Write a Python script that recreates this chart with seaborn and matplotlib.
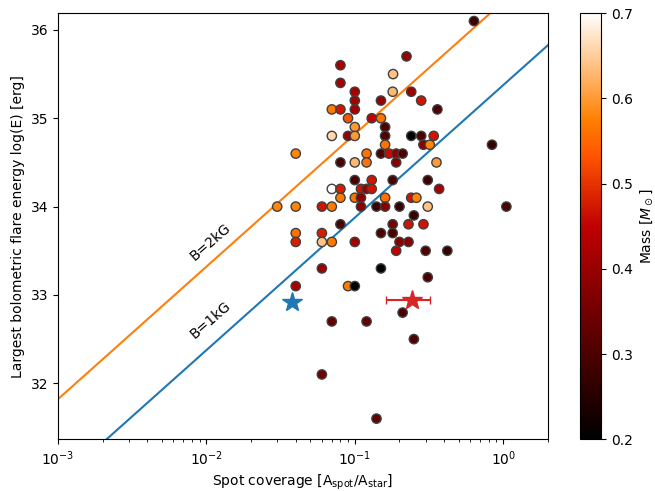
import numpy as np
import pandas as pd
import seaborn as sns
import matplotlib
matplotlib.use("Agg")
import matplotlib.pyplot as plt
from matplotlib.colors import Normalize
from matplotlib.cm import ScalarMappable

# flare sample: spot coverage, log of largest flare energy, stellar mass
spot = [0.635, 0.08, 0.223, 0.181, 0.08, 0.1, 0.18, 0.24, 0.1, 0.15,
        0.28, 0.07, 0.08, 0.1, 0.36, 0.09, 0.13, 0.15, 0.1, 0.16,
        0.07, 0.09, 0.1, 0.16, 0.24, 0.28, 0.34, 0.16, 0.29, 0.32,
        0.84, 0.04, 0.12, 0.15, 0.17, 0.19, 0.21, 0.08, 0.1, 0.12,
        0.19, 0.355, 0.1, 0.13, 0.18, 0.31, 0.07, 0.08, 0.11, 0.12,
        0.13, 0.37, 0.08, 0.1, 0.11, 0.16, 0.24, 0.26, 0.03, 0.04,
        0.06, 0.07, 0.11, 0.14, 0.16, 0.2, 0.31, 1.05, 0.25, 0.08,
        0.18, 0.23, 0.29, 0.04, 0.06, 0.15, 0.18, 0.04, 0.06, 0.07,
        0.1, 0.2, 0.23, 0.19, 0.3, 0.42, 0.06, 0.15, 0.31, 0.04,
        0.09, 0.1, 0.21, 0.07, 0.12, 0.25, 0.06, 0.14]
log_energy = [36.1, 35.6, 35.7, 35.5, 35.4, 35.3, 35.3, 35.3, 35.2, 35.2,
              35.2, 35.1, 35.1, 35.1, 35.1, 35.0, 35.0, 35.0, 34.9, 34.9,
              34.8, 34.8, 34.8, 34.8, 34.8, 34.8, 34.8, 34.7, 34.7, 34.7,
              34.7, 34.6, 34.6, 34.6, 34.6, 34.6, 34.6, 34.5, 34.5, 34.5,
              34.5, 34.5, 34.3, 34.3, 34.3, 34.3, 34.2, 34.2, 34.2, 34.2,
              34.2, 34.2, 34.1, 34.1, 34.1, 34.1, 34.1, 34.1, 34.0, 34.0,
              34.0, 34.0, 34.0, 34.0, 34.0, 34.0, 34.0, 34.0, 33.9, 33.8,
              33.8, 33.8, 33.8, 33.7, 33.7, 33.7, 33.7, 33.6, 33.6, 33.6,
              33.6, 33.6, 33.6, 33.5, 33.5, 33.5, 33.3, 33.3, 33.2, 33.1,
              33.1, 33.1, 32.8, 32.7, 32.7, 32.5, 32.1, 31.6]
mass = [0.28, 0.42, 0.40, 0.64, 0.42, 0.42, 0.63, 0.40, 0.42, 0.40,
        0.47, 0.57, 0.47, 0.42, 0.30, 0.53, 0.45, 0.56, 0.60, 0.30,
        0.66, 0.40, 0.60, 0.30, 0.20, 0.30, 0.47, 0.56, 0.38, 0.58,
        0.27, 0.58, 0.56, 0.30, 0.46, 0.38, 0.30, 0.30, 0.63, 0.56,
        0.38, 0.60, 0.30, 0.47, 0.30, 0.28, 0.70, 0.48, 0.47, 0.40,
        0.47, 0.42, 0.57, 0.56, 0.38, 0.56, 0.47, 0.58, 0.58, 0.58,
        0.47, 0.57, 0.38, 0.28, 0.38, 0.27, 0.64, 0.30, 0.27, 0.30,
        0.36, 0.47, 0.47, 0.56, 0.48, 0.30, 0.30, 0.48, 0.64, 0.57,
        0.42, 0.38, 0.38, 0.45, 0.30, 0.27, 0.40, 0.20, 0.30, 0.42,
        0.57, 0.20, 0.30, 0.33, 0.33, 0.30, 0.35, 0.33]

# highlighted stars
blue_star = (0.0375, 32.92)
red_star = (0.241, 32.94)
red_star_xerr = 0.08

# E ~ A^1.5 relations, log E at A = 1e-3
slope = 1.5
intercept_2kG = 31.82
intercept_1kG = 30.875

df = pd.DataFrame({"spot": spot, "logE": log_energy, "mass": mass})

fig = plt.figure(figsize=(6.55, 4.91), dpi=100)
ax = fig.add_axes([0.0885, 0.1053, 0.748, 0.868])
cax = fig.add_axes([0.8855, 0.1053, 0.032, 0.868])

xx = np.logspace(-3, np.log10(2), 200)
ax.plot(xx, intercept_2kG + slope * (np.log10(xx) + 3), color="C1", lw=1.5)
ax.plot(xx, intercept_1kG + slope * (np.log10(xx) + 3), color="C0", lw=1.5)

sns.scatterplot(data=df, x="spot", y="logE", hue="mass", palette="gist_heat",
                hue_norm=(0.2, 0.7), edgecolor="0.25", linewidth=1.0, s=45,
                legend=False, ax=ax, zorder=3)

ax.plot(*blue_star, marker="*", ms=15, color="C0", ls="none", zorder=4)
ax.errorbar(red_star[0], red_star[1], xerr=red_star_xerr, fmt="*", ms=15,
            color="C3", capsize=3, elinewidth=1.5, zorder=4)

ax.text(0.0107, 33.6, "B=2kG", rotation=41, ha="center", va="center", fontsize=10)
ax.text(0.0107, 32.72, "B=1kG", rotation=41, ha="center", va="center", fontsize=10)

ax.set_xscale("log")
ax.set_xlim(1e-3, 2)
ax.set_ylim(31.366, 36.19)
ax.set_xlabel(r"Spot coverage [A$_{\rm spot}$/A$_{\rm star}$]")
ax.set_ylabel("Largest bolometric flare energy log(E) [erg]")

sm = ScalarMappable(norm=Normalize(0.2, 0.7), cmap="gist_heat")
cb = fig.colorbar(sm, cax=cax)
cb.set_label(r"Mass [$M_\odot$]")

fig.savefig("out.png", dpi=100)
